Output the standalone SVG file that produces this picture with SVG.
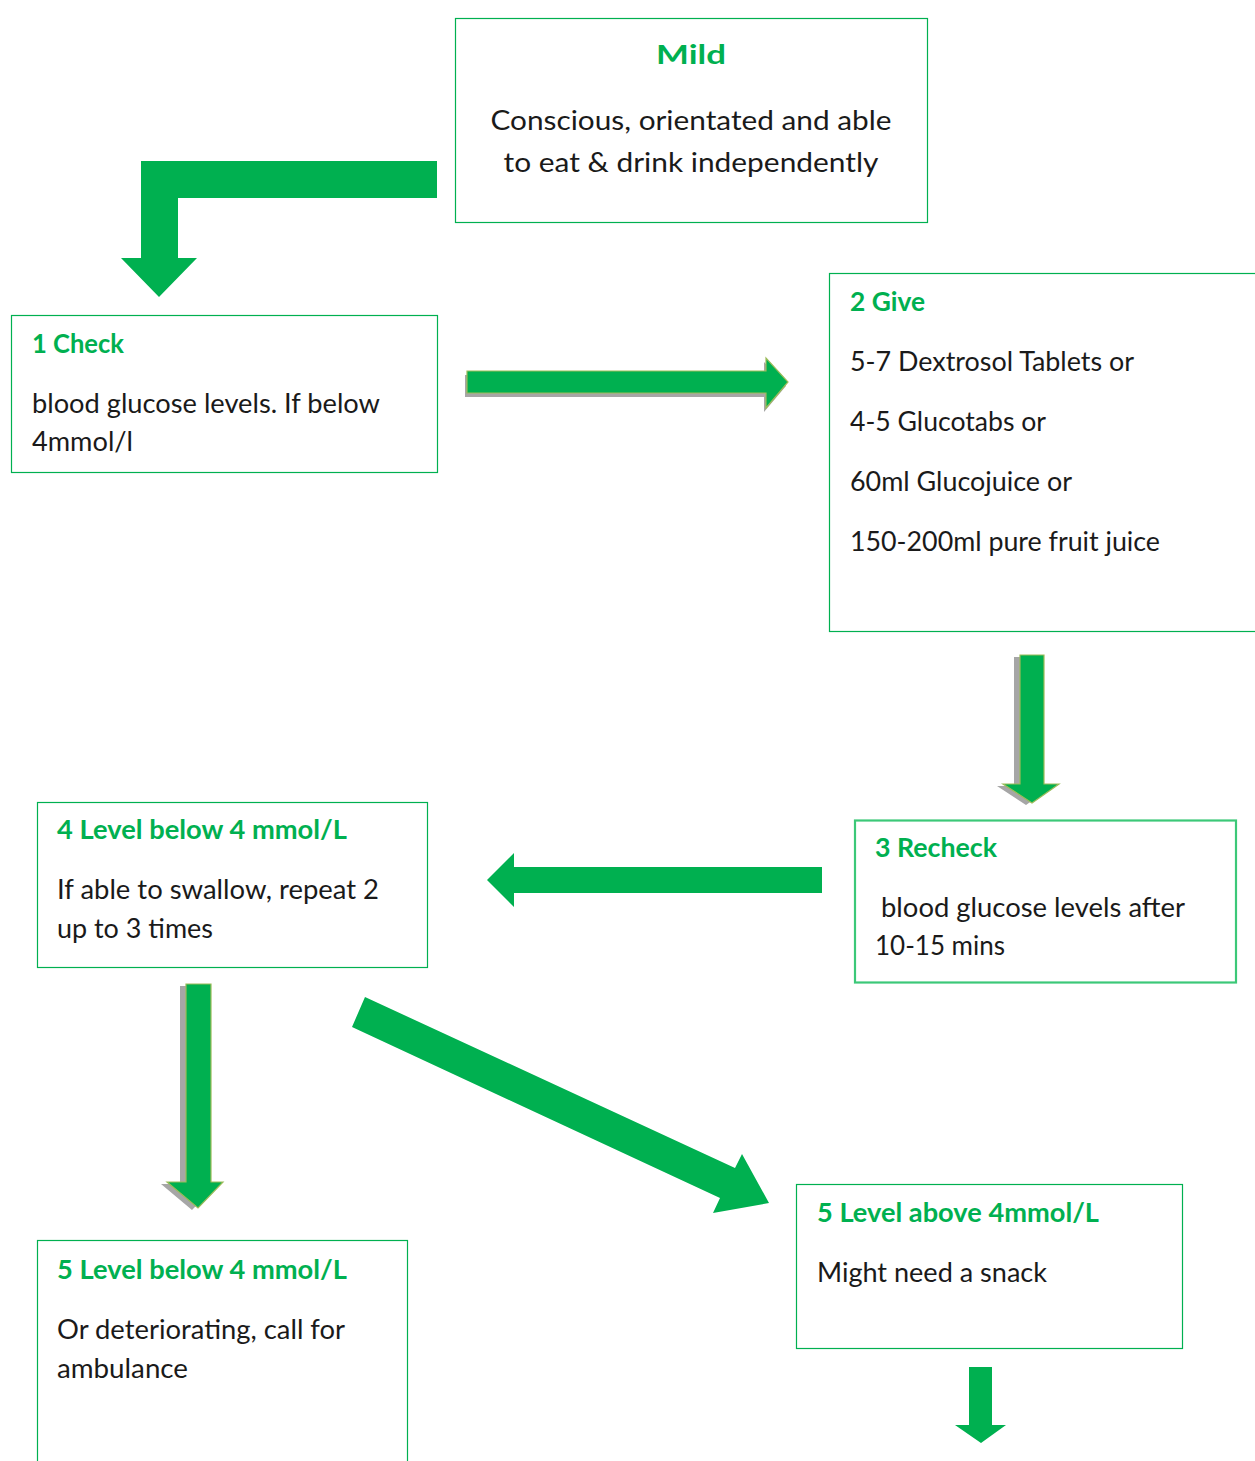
<svg xmlns="http://www.w3.org/2000/svg" width="1255" height="1461" viewBox="0 0 1255 1461">
  <style>
    .box { fill: #ffffff; stroke: #00b050; stroke-width: 1.2; }
    .box3 { fill: #ffffff; stroke: #3cc878; stroke-width: 2.2; }
    .title { font-family: Lato, "Liberation Sans", sans-serif; font-weight: bold; fill: #00b050; font-size: 27px; }
    .body { font-family: Lato, "Liberation Sans", sans-serif; fill: #1a1a1a; font-size: 27px; }
    .flat { fill: #00b050; }
    .bevel { fill: #00b050; stroke: #9bbb59; stroke-width: 1.2; stroke-linejoin: miter; }
    .shadow { fill: #a6a6a6; }
  </style>

  <!-- connectors -->
  <g id="connectors">
    <!-- elbow arrow from Mild to 1 Check -->
    <path class="flat" d="M437,161 L141,161 L141,258 L121,258 L159,297 L197,258 L178,258 L178,198 L437,198 Z"/>
    <!-- 1 Check to 2 Give -->
    <g>
      <path class="shadow" transform="translate(-2,4)" d="M467,371 L766,371 L766,358 L788,382 L766,408 L766,393 L467,393 Z"/>
      <path class="bevel" d="M467,371 L766,371 L766,358 L788,382 L766,408 L766,393 L467,393 Z"/>
    </g>
    <!-- 2 Give to 3 Recheck -->
    <g>
      <path class="shadow" transform="translate(-6,2)" d="M1020,655 L1044,655 L1044,784 L1059,784 L1032,803 L1003,784 L1020,784 Z"/>
      <path class="bevel" d="M1020,655 L1044,655 L1044,784 L1059,784 L1032,803 L1003,784 L1020,784 Z"/>
    </g>
    <!-- 3 Recheck to 4 Level below -->
    <path class="flat" d="M822,867 L514,867 L514,853 L487,880 L514,907 L514,893 L822,893 Z"/>
    <!-- 4 Level below to 5 Level below -->
    <g>
      <path class="shadow" transform="translate(-6,2)" d="M186,984 L211,984 L211,1182 L223,1182 L198,1208 L167,1182 L186,1182 Z"/>
      <path class="bevel" d="M186,984 L211,984 L211,1182 L223,1182 L198,1208 L167,1182 L186,1182 Z"/>
    </g>
    <!-- 4 Level below to 5 Level above -->
    <path class="flat" d="M365,997 L735,1168 L742,1154 L769,1203 L713,1213 L720,1198 L352,1027 Z"/>
    <!-- onward from 5 Level above -->
    <path class="flat" d="M969,1367 L992,1367 L992,1425 L1006,1425 L981,1443 L955,1425 L969,1425 Z"/>
  </g>

  <!-- Mild -->
  <g id="node-mild">
    <rect class="box" x="455.5" y="18.5" width="472" height="204"/>
    <text class="title" x="691" y="64" text-anchor="middle" font-size="37" textLength="70" lengthAdjust="spacingAndGlyphs">Mild</text>
    <text class="body" x="691" y="130" text-anchor="middle" font-size="29" textLength="401" lengthAdjust="spacingAndGlyphs">Conscious, orientated and able</text>
    <text class="body" x="691" y="172" text-anchor="middle" font-size="29" textLength="375" lengthAdjust="spacingAndGlyphs">to eat &amp; drink independently</text>
  </g>

  <!-- 1 Check -->
  <g id="node-check">
    <rect class="box" x="11.5" y="315.5" width="426" height="157"/>
    <text class="title" x="32" y="353" textLength="92" lengthAdjust="spacingAndGlyphs">1 Check</text>
    <text class="body" x="32" y="413" textLength="348" lengthAdjust="spacingAndGlyphs">blood glucose levels. If below</text>
    <text class="body" x="32" y="451" textLength="101" lengthAdjust="spacingAndGlyphs">4mmol/l</text>
  </g>

  <!-- 2 Give -->
  <g id="node-give">
    <rect class="box" x="829.5" y="273.5" width="440" height="358"/>
    <text class="title" x="850" y="311" textLength="75" lengthAdjust="spacingAndGlyphs">2 Give</text>
    <text class="body" x="850" y="371" textLength="284" lengthAdjust="spacingAndGlyphs">5-7 Dextrosol Tablets or</text>
    <text class="body" x="850" y="431" textLength="196" lengthAdjust="spacingAndGlyphs">4-5 Glucotabs or</text>
    <text class="body" x="850" y="491" textLength="222" lengthAdjust="spacingAndGlyphs">60ml Glucojuice or</text>
    <text class="body" x="850" y="551" textLength="310" lengthAdjust="spacingAndGlyphs">150-200ml pure fruit juice</text>
  </g>

  <!-- 3 Recheck -->
  <g id="node-recheck">
    <rect class="box3" x="855" y="820.5" width="381" height="162"/>
    <text class="title" x="875" y="857" textLength="122" lengthAdjust="spacingAndGlyphs">3 Recheck</text>
    <text class="body" x="881" y="917" textLength="304" lengthAdjust="spacingAndGlyphs">blood glucose levels after</text>
    <text class="body" x="875" y="955" textLength="130" lengthAdjust="spacingAndGlyphs">10-15 mins</text>
  </g>

  <!-- 4 Level below -->
  <g id="node-level4">
    <rect class="box" x="37.5" y="802.5" width="390" height="165"/>
    <text class="title" x="57" y="839" textLength="290" lengthAdjust="spacingAndGlyphs">4 Level below 4 mmol/L</text>
    <text class="body" x="57" y="899" textLength="322" lengthAdjust="spacingAndGlyphs">If able to swallow, repeat 2</text>
    <text class="body" x="57" y="938" textLength="156" lengthAdjust="spacingAndGlyphs">up to 3 times</text>
  </g>

  <!-- 5 Level below -->
  <g id="node-level5-below">
    <rect class="box" x="37.5" y="1240.5" width="370" height="240"/>
    <text class="title" x="57" y="1279" textLength="290" lengthAdjust="spacingAndGlyphs">5 Level below 4 mmol/L</text>
    <text class="body" x="57" y="1339" textLength="288" lengthAdjust="spacingAndGlyphs">Or deteriorating, call for</text>
    <text class="body" x="57" y="1378" textLength="131" lengthAdjust="spacingAndGlyphs">ambulance</text>
  </g>

  <!-- 5 Level above -->
  <g id="node-level5-above">
    <rect class="box" x="796.5" y="1184.5" width="386" height="164"/>
    <text class="title" x="817" y="1222" textLength="282" lengthAdjust="spacingAndGlyphs">5 Level above 4mmol/L</text>
    <text class="body" x="817" y="1282" textLength="230" lengthAdjust="spacingAndGlyphs">Might need a snack</text>
  </g>
</svg>
